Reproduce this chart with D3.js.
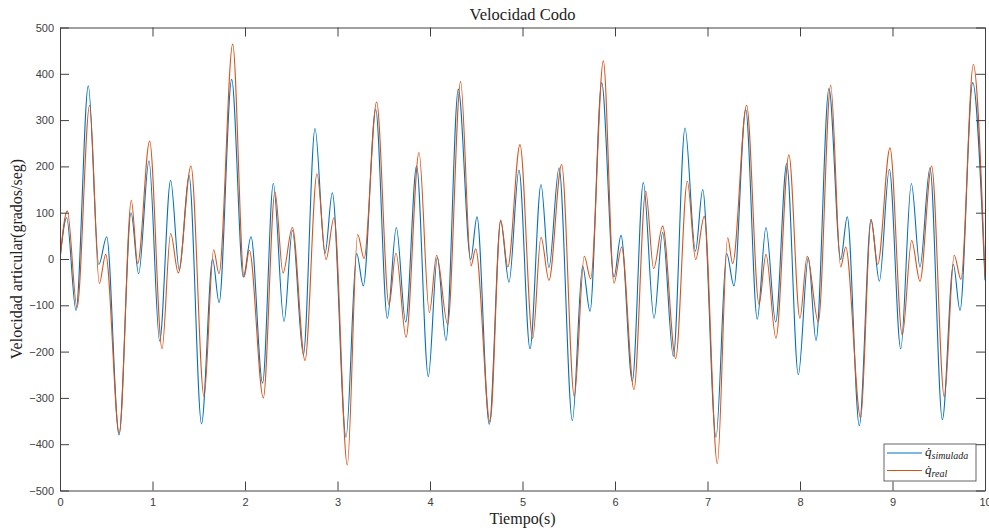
<!DOCTYPE html>
<html>
<head>
<meta charset="utf-8">
<script src="https://cdn.jsdelivr.net/npm/d3@7"></script>
<style>
  body { margin: 0; background: #fff; }
  .tick text { font-family: "Liberation Sans", Arial, sans-serif; font-size: 11px; fill: #404040; }
  .tick line, .domain { stroke: #404040; }
  .lbl { font-family: "Liberation Serif", "DejaVu Serif", serif; fill: #222; }
</style>
</head>
<body>
<svg id="svg-main"></svg>
<script>
const TITLE = "Velocidad Codo";
const X_LABEL = "Tiempo(s)";
const Y_LABEL = "Velocidad articular(grados/seg)";
const X_TICKS = [0, 1, 2, 3, 4, 5, 6, 7, 8, 9, 10];
const Y_TICKS = [-500, -400, -300, -200, -100, 0, 100, 200, 300, 400, 500];
const SERIES_NAMES = ["simulada", "real"];
const SERIES_COLORS = ["#0072BD", "#D95319"];

// [tiempo, velocidad] at the turning points of each curve
const simulada = [
  [0, 0], [0.072, 89], [0.173, -111], [0.306, 374], [0.42, -12], [0.505, 48], [0.638, -380],
  [0.768, 100], [0.85, -32], [0.962, 212], [1.077, -177], [1.196, 170], [1.29, -24], [1.395, 180],
  [1.53, -356], [1.65, 0], [1.72, -94], [1.856, 388], [1.982, -39], [2.065, 48], [2.19, -268],
  [2.306, 163], [2.422, -135], [2.512, 62], [2.631, -207], [2.757, 282], [2.865, 12], [2.944, 143],
  [3.092, -385], [3.207, 12], [3.279, -58], [3.413, 323], [3.539, -128], [3.636, 68], [3.737, -136],
  [3.855, 201], [3.982, -254], [4.079, 3], [4.173, -176], [4.306, 367], [4.44, -1], [4.508, 91],
  [4.641, -357], [4.764, 82], [4.854, -50], [4.962, 192], [5.081, -194], [5.2, 161], [5.286, -19],
  [5.395, 197], [5.539, -349], [5.65, -15], [5.73, -113], [5.856, 381], [5.989, -39], [6.065, 51],
  [6.187, -264], [6.306, 165], [6.422, -128], [6.515, 57], [6.631, -210], [6.757, 283], [6.87, 17],
  [6.948, 150], [7.092, -385], [7.207, 12], [7.286, -58], [7.413, 323], [7.538, -130], [7.632, 68],
  [7.737, -136], [7.856, 206], [7.982, -250], [8.09, 3], [8.173, -176], [8.313, 368], [8.44, -1],
  [8.511, 91], [8.641, -360], [8.768, 85], [8.858, -48], [8.966, 194], [9.089, -194], [9.204, 163],
  [9.297, -17], [9.405, 197], [9.539, -347], [9.658, -12], [9.73, -111], [9.867, 381], [10, -46]
];

const real = [
  [0, 0], [0.079, 104], [0.184, -105], [0.32, 332], [0.425, -53], [0.494, 10], [0.641, -376],
  [0.771, 127], [0.84, -10], [0.969, 255], [1.103, -194], [1.196, 55], [1.279, -30], [1.416, 201],
  [1.557, -297], [1.661, 20], [1.719, -32], [1.867, 464], [1.99, -39], [2.047, 19], [2.198, -300],
  [2.324, 145], [2.411, -30], [2.512, 68], [2.649, -219], [2.778, 184], [2.876, -1], [2.962, 89],
  [3.106, -445], [3.218, 53], [3.287, 1], [3.423, 339], [3.557, -99], [3.632, 13], [3.741, -169],
  [3.881, 230], [3.993, -116], [4.072, 8], [4.191, -141], [4.331, 383], [4.443, -15], [4.494, 22],
  [4.649, -352], [4.764, 84], [4.841, -17], [4.973, 247], [5.11, -172], [5.2, 47], [5.286, -46],
  [5.423, 204], [5.56, -297], [5.668, 6], [5.737, -43], [5.874, 428], [5.989, -52], [6.072, 26],
  [6.205, -282], [6.332, 147], [6.418, -21], [6.515, 71], [6.656, -215], [6.782, 168], [6.872, -1],
  [6.965, 92], [7.106, -442], [7.218, 46], [7.272, -10], [7.423, 332], [7.557, -98], [7.632, 10],
  [7.74, -171], [7.88, 225], [7.999, -128], [8.078, 6], [8.198, -136], [8.332, 375], [8.44, -17],
  [8.494, 26], [8.656, -344], [8.768, 85], [8.84, -12], [8.973, 240], [9.106, -165], [9.207, 40],
  [9.297, -48], [9.423, 201], [9.56, -298], [9.667, 8], [9.74, -44], [9.874, 420], [10, -39]
];

var Dims = {
    Width: 989,
    Height: 531,
    Margin: { Top: 27.5, Right: 4, Bottom: 40.5, Left: 60 }
};

var svg = d3.select("#svg-main")
    .attr("width", Dims.Width)
    .attr("height", Dims.Height);

var plotW = Dims.Width - Dims.Margin.Left - Dims.Margin.Right;
var plotH = Dims.Height - Dims.Margin.Top - Dims.Margin.Bottom;

var x = d3.scaleLinear().domain([0, 10]).range([0, plotW]);
var y = d3.scaleLinear().domain([-500, 500]).range([plotH, 0]);

var g = svg.append("g")
    .attr("transform", `translate(${Dims.Margin.Left},${Dims.Margin.Top})`);

var line = d3.line()
    .x(d => x(d[0]))
    .y(d => y(d[1]))
    .curve(d3.curveMonotoneX);

g.append("clipPath").attr("id", "plot-clip")
    .append("rect").attr("width", plotW).attr("height", plotH);

[simulada, real].forEach(function (data, i) {
    g.append("path")
        .datum(data)
        .attr("clip-path", "url(#plot-clip)")
        .attr("fill", "none")
        .attr("stroke", SERIES_COLORS[i])
        .attr("stroke-width", 1.1)
        .attr("d", line);
});

// axes, ticks pointing inwards like matlab
g.append("g")
    .attr("transform", `translate(0,${plotH})`)
    .call(d3.axisBottom(x).tickValues(X_TICKS).tickSize(-9).tickSizeOuter(0).tickPadding(8));
g.append("g")
    .call(d3.axisTop(x).tickValues(X_TICKS).tickSize(-9).tickSizeOuter(0).tickFormat(""));
g.append("g")
    .call(d3.axisLeft(y).tickValues(Y_TICKS).tickSize(-9).tickSizeOuter(0).tickPadding(6));
g.append("g")
    .attr("transform", `translate(${plotW},0)`)
    .call(d3.axisRight(y).tickValues(Y_TICKS).tickSize(-9).tickSizeOuter(0).tickFormat(""));

g.selectAll(".tick text").attr("font-family", null).attr("font-size", null);

// labels
svg.append("text").attr("class", "lbl")
    .attr("x", Dims.Margin.Left + plotW / 2).attr("y", 20)
    .attr("text-anchor", "middle").attr("font-size", 16.5)
    .text(TITLE);

svg.append("text").attr("class", "lbl")
    .attr("x", Dims.Margin.Left + plotW / 2).attr("y", 524)
    .attr("text-anchor", "middle").attr("font-size", 16)
    .text(X_LABEL);

svg.append("text").attr("class", "lbl")
    .attr("transform", `translate(22,${Dims.Margin.Top + plotH / 2}) rotate(-90)`)
    .attr("text-anchor", "middle").attr("font-size", 16)
    .text(Y_LABEL);

// legend
var leg = g.append("g")
    .attr("transform", `translate(${x(10) - 101},${y(-500) - 46.5})`);

leg.append("rect")
    .attr("width", 92).attr("height", 37)
    .attr("fill", "#fff").attr("stroke", "#404040").attr("stroke-width", 0.8);

SERIES_NAMES.forEach(function (name, i) {
    var row = leg.append("g").attr("transform", `translate(0,${9 + i * 17.5})`);
    row.append("line")
        .attr("x1", 3).attr("x2", 38)
        .attr("stroke", SERIES_COLORS[i]).attr("stroke-width", 1.2);
    var t = row.append("text").attr("class", "lbl")
        .attr("x", 41).attr("y", 3)
        .attr("font-style", "italic").attr("font-size", 13);
    t.append("tspan").text("q\u0307");
    t.append("tspan").attr("font-size", 10).attr("dy", 3).text(name);
});
</script>
</body>
</html>
